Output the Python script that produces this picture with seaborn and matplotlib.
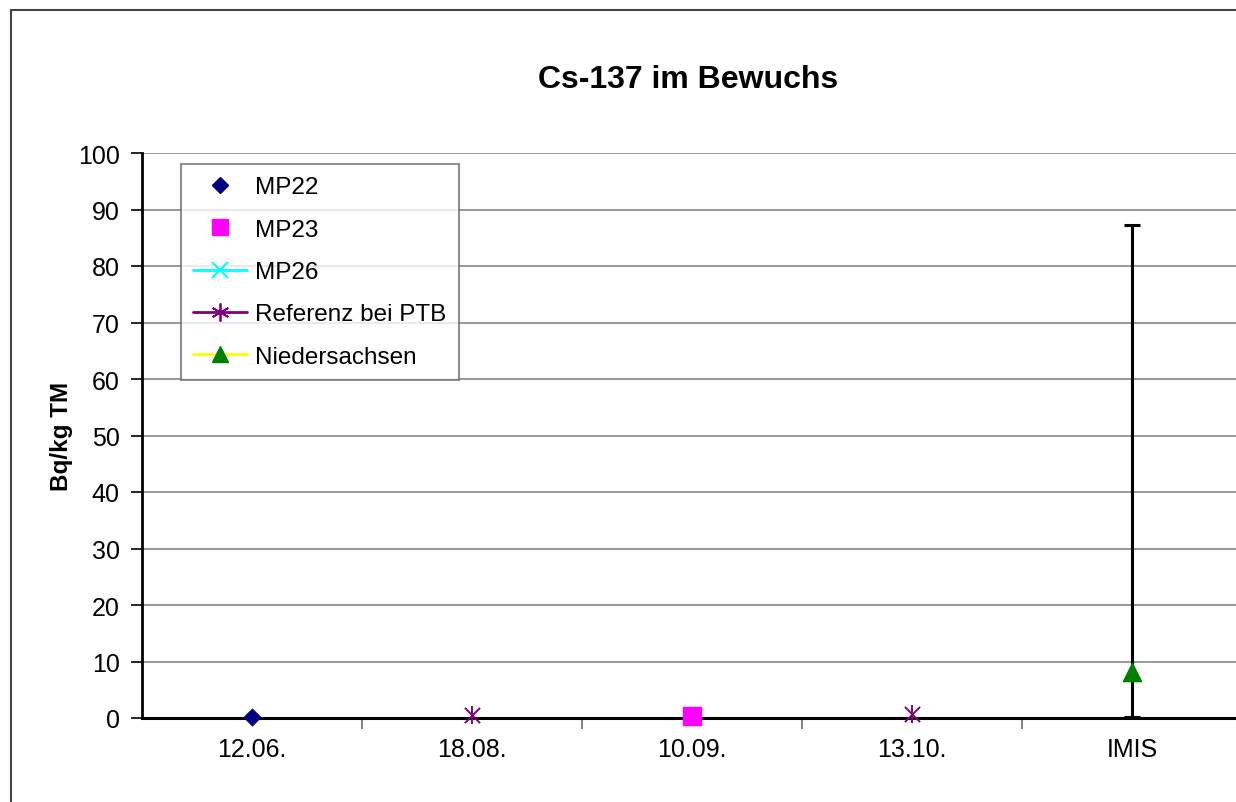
import matplotlib
matplotlib.use("Agg")
import matplotlib.pyplot as plt
import seaborn as sns
import pandas as pd
import numpy as np
from matplotlib.lines import Line2D
from matplotlib.patches import Rectangle

categories = ["12.06.", "18.08.", "10.09.", "13.10.", "IMIS"]
mp22_cat = ["12.06."]
mp22_val = [0.2]
mp23_cat = ["10.09."]
mp23_val = [0.3]
ptb_cat = ["18.08.", "13.10."]
ptb_val = [0.5, 0.7]
nds_cat = ["IMIS"]
nds_val = [8.2]
nds_err_low = [8.0]
nds_err_high = [79.1]
yticks = list(range(0, 101, 10))

sns.set_theme(style="white")
plt.rcParams['font.family'] = ['Liberation Sans', 'DejaVu Sans']
plt.rcParams['text.color'] = 'black'
plt.rcParams['axes.labelcolor'] = 'black'
plt.rcParams['xtick.color'] = 'black'
plt.rcParams['ytick.color'] = 'black'

W, H = 1236, 803
fig = plt.figure(figsize=(W / 100, H / 100), dpi=100)
ax = fig.add_axes([142 / W, 1 - 719 / H, 1100 / W, (719 - 154) / H])

pos = {c: i for i, c in enumerate(categories)}

df22 = pd.DataFrame({"x": [pos[c] for c in mp22_cat], "y": mp22_val})
df23 = pd.DataFrame({"x": [pos[c] for c in mp23_cat], "y": mp23_val})
dfp = pd.DataFrame({"x": [pos[c] for c in ptb_cat], "y": ptb_val})
dfn = pd.DataFrame({"x": [pos[c] for c in nds_cat], "y": nds_val})

# error bar for IMIS
eb = ax.errorbar(dfn["x"], dfn["y"], yerr=[nds_err_low, nds_err_high], fmt="none",
                 ecolor="black", elinewidth=2.2, capsize=6, capthick=2.2, zorder=4)
for art in eb.lines[1] + eb.lines[2]:
    art.set_clip_on(False)

sns.scatterplot(data=df22, x="x", y="y", ax=ax, marker="D", color="#000080",
                s=75, edgecolor="#000080", zorder=5, legend=False, clip_on=False)
sns.scatterplot(data=df23, x="x", y="y", ax=ax, marker="s", color="#FF00FF",
                s=170, edgecolor="#FF00FF", zorder=5, legend=False, clip_on=False)
sns.scatterplot(data=dfp, x="x", y="y", ax=ax, marker="x", color="#800080",
                s=120, linewidth=1.4, zorder=5, legend=False, clip_on=False)
sns.scatterplot(data=dfp, x="x", y="y", ax=ax, marker="|", color="#800080",
                s=170, linewidth=1.4, zorder=5, legend=False, clip_on=False)
sns.scatterplot(data=dfn, x="x", y="y", ax=ax, marker="^", color="#008000",
                s=170, edgecolor="#008000", zorder=6, legend=False, clip_on=False)

ax.set_xlim(-0.5, len(categories) - 0.5)
ax.set_ylim(0, 100)
ax.set_yticks(yticks)
ax.set_xticks(range(len(categories)))
ax.set_xticklabels(categories)
ax.set_xticks(np.arange(0.5, len(categories) - 0.5, 1.0), minor=True)
ax.tick_params(axis="x", which="major", length=0, labelsize=18, pad=14)
ax.tick_params(axis="x", which="minor", length=8, width=1.5, color="#888888", bottom=True, direction="out")
ax.tick_params(axis="y", which="major", length=8, width=1.2, left=True,
               direction="out", labelsize=18, pad=8)
ax.grid(axis="y", color="#888888", linewidth=1.2)
ax.set_axisbelow(True)
for s in ["top", "right"]:
    ax.spines[s].set_visible(False)
ax.spines["left"].set_color("black")
ax.spines["left"].set_linewidth(2.0)
ax.spines["bottom"].set_color("black")
ax.spines["bottom"].set_linewidth(2.2)
ax.set_xlabel("")
ax.set_ylabel("Bq/kg TM", fontsize=17.5, fontweight="bold")
ax.yaxis.set_label_coords((73 - 142) / 1100, 0.5)
fig.text(688 / W, 1 - 80 / H, "Cs-137 im Bewuchs", fontsize=23, fontweight="bold",
         ha="center", va="center")

handles = [
    Line2D([], [], linestyle="none", marker="D", color="#000080", markersize=8),
    Line2D([], [], linestyle="none", marker="s", color="#FF00FF", markersize=11),
    Line2D([], [], color="#00FFFF", marker="x", markersize=12, linewidth=2, markeredgewidth=1.5),
    Line2D([], [], color="#800080", marker=(6, 2, 0), markersize=13, linewidth=2, markeredgewidth=1.3),
    Line2D([], [], color="#FFFF00", marker="^", markerfacecolor="#008000",
           markeredgecolor="#008000", markersize=12, linewidth=2),
]
labels = ["MP22", "MP23", "MP26", "Referenz bei PTB", "Niedersachsen"]
leg = ax.legend(handles, labels, loc="upper left", bbox_to_anchor=((181 - 142) / 1100, 1 - (165 - 154) / 565),
                frameon=True, fancybox=False, fontsize=17.5, handlelength=2.2, handletextpad=0.35,
                labelspacing=0.84, borderpad=0.5, borderaxespad=0)
leg.get_frame().set_edgecolor("#555555")
leg.get_frame().set_linewidth(1.2)

# outer chart border
fig.patches.append(Rectangle((11 / W, -0.1), 1.2, 1 - 11 / H + 0.1, transform=fig.transFigure,
                             fill=False, edgecolor="#444444", linewidth=1.5, zorder=0))

fig.savefig("out.png", dpi=100)
